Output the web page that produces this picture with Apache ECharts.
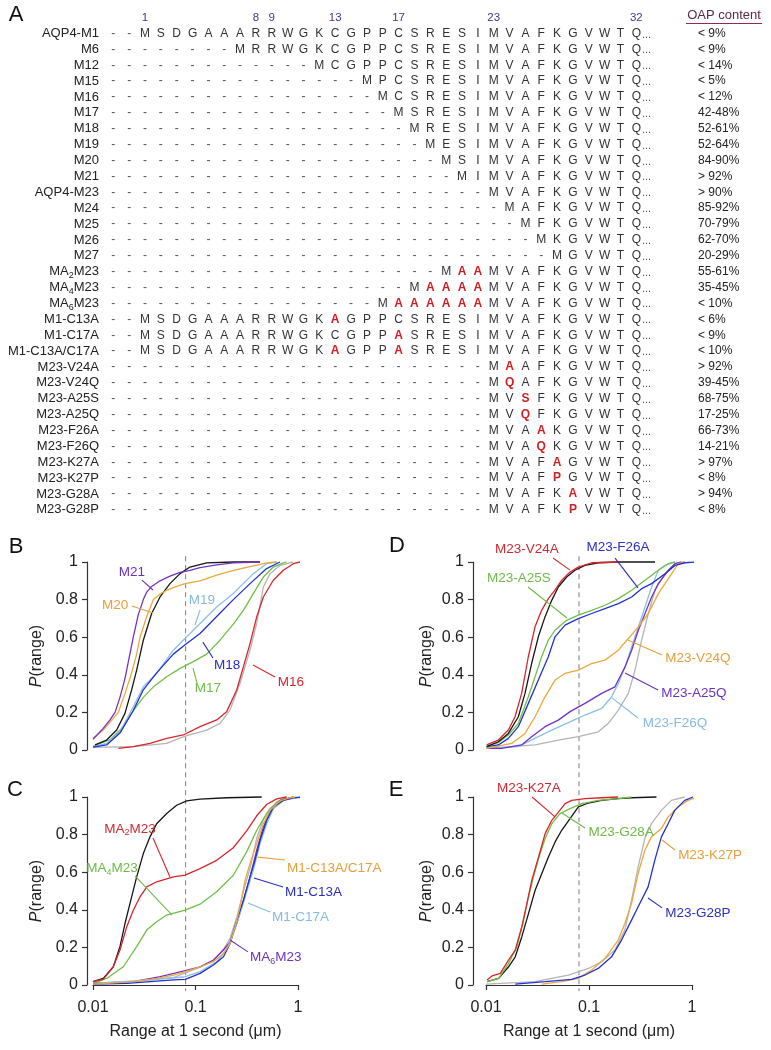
<!DOCTYPE html>
<html><head><meta charset="utf-8">
<script src="https://cdn.jsdelivr.net/npm/echarts@6.0.0/dist/echarts.min.js"></script>
<style>html,body{margin:0;padding:0;background:#fff;}#chart{width:771px;height:1050px;}</style>
</head><body><div id="chart"></div>
<script>
// ---------------- Panel A : sequence table ----------------
const numberedPositions = [1, 8, 9, 13, 17, 23, 32];
const rowLabels = ['AQP4-M1','M6','M12','M15','M16','M17','M18','M19','M20','M21','AQP4-M23','M24','M25','M26','M27','MA₂M23','MA₄M23','MA₆M23','M1-C13A','M1-C17A','M1-C13A/C17A','M23-V24A','M23-V24Q','M23-A25S','M23-A25Q','M23-F26A','M23-F26Q','M23-K27A','M23-K27P','M23-G28A','M23-G28P'];
const gap = n => '-'.repeat(n);
// positions -1,0,1..32 ; lower-case = mutated residue (red)
const rowSeqs = [
 '--MSDGAAARRWGKCGPPCSRESIMVAFKGVWTQ',
 gap(8)+'MRRWGKCGPPCSRESIMVAFKGVWTQ',
 gap(13)+'MCGPPCSRESIMVAFKGVWTQ',
 gap(16)+'MPCSRESIMVAFKGVWTQ',
 gap(17)+'MCSRESIMVAFKGVWTQ',
 gap(18)+'MSRESIMVAFKGVWTQ',
 gap(19)+'MRESIMVAFKGVWTQ',
 gap(20)+'MESIMVAFKGVWTQ',
 gap(21)+'MSIMVAFKGVWTQ',
 gap(22)+'MIMVAFKGVWTQ',
 gap(24)+'MVAFKGVWTQ',
 gap(25)+'MAFKGVWTQ',
 gap(26)+'MFKGVWTQ',
 gap(27)+'MKGVWTQ',
 gap(28)+'MGVWTQ',
 gap(21)+'MaaMVAFKGVWTQ',
 gap(19)+'MaaaaMVAFKGVWTQ',
 gap(17)+'MaaaaaaMVAFKGVWTQ',
 '--MSDGAAARRWGKaGPPCSRESIMVAFKGVWTQ',
 '--MSDGAAARRWGKCGPPaSRESIMVAFKGVWTQ',
 '--MSDGAAARRWGKaGPPaSRESIMVAFKGVWTQ',
 gap(24)+'MaAFKGVWTQ',
 gap(24)+'MqAFKGVWTQ',
 gap(24)+'MVsFKGVWTQ',
 gap(24)+'MVqFKGVWTQ',
 gap(24)+'MVAaKGVWTQ',
 gap(24)+'MVAqKGVWTQ',
 gap(24)+'MVAFaGVWTQ',
 gap(24)+'MVAFpGVWTQ',
 gap(24)+'MVAFKaVWTQ',
 gap(24)+'MVAFKpVWTQ'
];
const oapContent = ['< 9%','< 9%','< 14%','< 5%','< 12%','42-48%','52-61%','52-64%','84-90%','> 92%','> 90%','85-92%','70-79%','62-70%','20-29%','55-61%','35-45%','< 10%','< 6%','< 9%','< 10%','> 92%','39-45%','68-75%','17-25%','66-73%','14-21%','> 97%','< 8%','> 94%','< 8%'];

// ---------------- Axes ----------------
const xTickLabels = ['0.01','0.1','1'];
const yTickLabels = ['0','0.2','0.4','0.6','0.8','1'];
const xAxisTitle = 'Range at 1 second (μm)';
const yAxisTitle = '{i|P}(range)';
const dashX = 0.08;

// ---------------- Panel B ----------------
const B_M1 = [[0.01,0.014],[0.02472,0.018],[0.05236,0.035],[0.07907,0.074],[0.1285,0.106],[0.1734,0.142],[0.2173,0.212],[0.2716,0.354],[0.3404,0.531],[0.3954,0.673],[0.4592,0.867],[0.5333,0.938],[0.6668,0.982],[0.8995,1]];
const B_M23 = [[0.01047,0.027],[0.01358,0.053],[0.01702,0.106],[0.02051,0.195],[0.02382,0.32],[0.02667,0.425],[0.03097,0.584],[0.03733,0.726],[0.04508,0.814],[0.05636,0.885],[0.07063,0.938],[0.08831,0.973],[0.1285,0.995],[0.2339,1],[0.4256,1]];
const B_M16 = [[0.01766,0.009],[0.02472,0.018],[0.03597,0.035],[0.05236,0.062],[0.07603,0.08],[0.1107,0.124],[0.161,0.16],[0.2014,0.204],[0.2523,0.319],[0.2931,0.442],[0.3404,0.566],[0.3954,0.708],[0.4592,0.814],[0.5741,0.903],[0.7194,0.956],[0.8995,0.991],[1.047,1]];
const B_M17 = [[0.01,0.02],[0.01466,0.055],[0.01977,0.124],[0.02472,0.21],[0.03097,0.28],[0.03882,0.336],[0.05236,0.39],[0.07063,0.434],[0.09528,0.47],[0.1285,0.51],[0.1734,0.584],[0.2339,0.67],[0.2931,0.743],[0.3664,0.832],[0.4592,0.92],[0.5741,0.973],[0.7194,0.995],[0.7745,1]];
const B_M18 = [[0.01,0.015],[0.01358,0.027],[0.01832,0.09],[0.02472,0.21],[0.03097,0.32],[0.04178,0.41],[0.06081,0.51],[0.07907,0.56],[0.1107,0.62],[0.161,0.71],[0.2339,0.8],[0.3404,0.885],[0.4943,0.965],[0.6668,1]];
const B_M19 = [[0.01,0.018],[0.01358,0.035],[0.01832,0.097],[0.02472,0.23],[0.03097,0.336],[0.04178,0.407],[0.06081,0.531],[0.07907,0.593],[0.1107,0.673],[0.161,0.761],[0.2339,0.832],[0.3664,0.938],[0.4943,0.991],[0.6194,1]];
const B_M20 = [[0.01,0.062],[0.01259,0.106],[0.01578,0.168],[0.01766,0.2],[0.02051,0.3],[0.0235,0.4],[0.02667,0.51],[0.02877,0.6],[0.03342,0.71],[0.03882,0.8],[0.04508,0.83],[0.05236,0.85],[0.06546,0.87],[0.07907,0.885],[0.1107,0.9],[0.161,0.93],[0.2339,0.955],[0.3404,0.975],[0.4943,0.995],[0.6194,1]];
const B_M21 = [[0.01,0.057],[0.01259,0.115],[0.01466,0.16],[0.01641,0.2],[0.01832,0.28],[0.02051,0.38],[0.02213,0.47],[0.02472,0.6],[0.02768,0.72],[0.03097,0.8],[0.03342,0.84],[0.03733,0.87],[0.04508,0.9],[0.05636,0.925],[0.07063,0.945],[0.08831,0.955],[0.1107,0.97],[0.161,0.985],[0.2339,0.995],[0.4256,1]];

// ---------------- Panel C ----------------
const C_M1 = [[0.01,0.01],[0.0249,0.018],[0.0611,0.04],[0.0794,0.065],[0.111,0.095],[0.1496,0.13],[0.1875,0.19],[0.2177,0.25],[0.2529,0.36],[0.2938,0.5],[0.3404,0.62],[0.3954,0.78],[0.4592,0.88],[0.5333,0.94],[0.6683,0.98],[0.9016,1]];
const C_M23 = [[0.01,0.018],[0.01259,0.035],[0.01578,0.097],[0.01832,0.204],[0.02051,0.327],[0.02296,0.434],[0.02667,0.575],[0.03097,0.699],[0.03597,0.788],[0.04178,0.858],[0.05236,0.912],[0.06546,0.956],[0.08204,0.979],[0.1107,0.989],[0.2014,0.996],[0.4426,1]];
const C_MA2M23 = [[0.01,0.018],[0.01259,0.03],[0.01578,0.097],[0.01832,0.186],[0.02128,0.308],[0.02472,0.398],[0.02877,0.469],[0.03342,0.522],[0.04178,0.549],[0.06081,0.575],[0.07907,0.584],[0.1107,0.619],[0.161,0.663],[0.2339,0.73],[0.3155,0.82],[0.3954,0.9],[0.4943,0.96],[0.6194,0.99],[0.7745,1]];
const C_MA4M23 = [[0.01,0.009],[0.01358,0.035],[0.01977,0.097],[0.02667,0.204],[0.03342,0.292],[0.04178,0.336],[0.05236,0.372],[0.07907,0.398],[0.1107,0.43],[0.161,0.496],[0.2339,0.584],[0.3155,0.708],[0.3954,0.823],[0.4943,0.912],[0.6194,0.973],[0.7745,1]];
const C_MA6M23 = [[0.01,0.009],[0.0249,0.018],[0.04529,0.044],[0.0794,0.076],[0.111,0.097],[0.1496,0.133],[0.1875,0.186],[0.2177,0.23],[0.2529,0.327],[0.2938,0.451],[0.3404,0.575],[0.3954,0.717],[0.4592,0.841],[0.5333,0.92],[0.6683,0.982],[0.9016,1]];
const C_C13A = [[0.01,0.005],[0.02143,0.009],[0.03614,0.018],[0.0611,0.027],[0.0794,0.03],[0.111,0.062],[0.1496,0.106],[0.1875,0.15],[0.2177,0.221],[0.2529,0.345],[0.2938,0.451],[0.3404,0.575],[0.3811,0.664],[0.4266,0.77],[0.4955,0.876],[0.5754,0.947],[0.7194,0.982],[0.9016,0.996],[1.15,1]];
const C_C17A = [[0.01,0.009],[0.03614,0.027],[0.0794,0.044],[0.111,0.071],[0.161,0.124],[0.2006,0.186],[0.2329,0.274],[0.2723,0.38],[0.3177,0.5],[0.3705,0.62],[0.4266,0.752],[0.4955,0.858],[0.5754,0.938],[0.7194,0.982],[1.045,1]];
const C_C13A17A = [[0.01,0.005],[0.0249,0.018],[0.042,0.035],[0.0611,0.053],[0.0794,0.071],[0.111,0.097],[0.1496,0.124],[0.1875,0.168],[0.2177,0.221],[0.2432,0.31],[0.2723,0.416],[0.3048,0.558],[0.3404,0.646],[0.3954,0.752],[0.4592,0.858],[0.5333,0.929],[0.6683,0.979],[0.8356,0.996],[0.9354,1]];

// ---------------- Panel D ----------------
const D_M1 = [[0.01015,0.009],[0.02992,0.027],[0.05035,0.053],[0.07871,0.071],[0.1233,0.097],[0.1542,0.142],[0.1928,0.212],[0.241,0.301],[0.2799,0.425],[0.3243,0.584],[0.3767,0.726],[0.4375,0.85],[0.547,0.938],[0.6839,0.991],[0.8551,1]];
const D_M23 = [[0.01015,0.018],[0.01318,0.044],[0.01648,0.088],[0.02061,0.177],[0.02392,0.301],[0.02773,0.46],[0.03221,0.602],[0.03741,0.708],[0.04345,0.796],[0.05035,0.867],[0.06067,0.92],[0.07311,0.956],[0.09141,0.982],[0.1233,0.996],[0.1928,1],[0.4375,1]];
const D_V24A = [[0.01015,0.027],[0.01318,0.053],[0.01648,0.106],[0.01914,0.177],[0.02218,0.301],[0.02576,0.496],[0.02992,0.655],[0.03467,0.743],[0.04027,0.805],[0.04677,0.85],[0.05433,0.903],[0.06546,0.947],[0.07871,0.973],[0.1062,0.996],[0.1928,1]];
const D_A25S = [[0.01015,0.021],[0.01318,0.039],[0.01648,0.08],[0.02061,0.142],[0.02576,0.283],[0.02992,0.389],[0.03467,0.496],[0.04027,0.584],[0.04677,0.637],[0.06067,0.69],[0.07871,0.717],[0.1062,0.743],[0.1429,0.77],[0.1928,0.805],[0.2594,0.85],[0.3499,0.903],[0.471,0.956],[0.5888,0.991],[0.6839,1]];
const D_F26A = [[0.01015,0.018],[0.01318,0.027],[0.01648,0.062],[0.02061,0.124],[0.02576,0.248],[0.03221,0.372],[0.04027,0.496],[0.04677,0.602],[0.05848,0.664],[0.07871,0.699],[0.1062,0.726],[0.1429,0.752],[0.1928,0.779],[0.2594,0.814],[0.3243,0.858],[0.4055,0.885],[0.547,0.938],[0.6839,0.982],[0.8551,0.996],[1.11,1]];
const D_V24Q = [[0.01015,0.009],[0.01774,0.035],[0.02392,0.088],[0.02992,0.177],[0.03741,0.283],[0.04677,0.372],[0.05848,0.407],[0.07871,0.425],[0.1062,0.46],[0.1429,0.478],[0.1928,0.531],[0.241,0.593],[0.3013,0.655],[0.3767,0.726],[0.471,0.832],[0.547,0.885],[0.6353,0.938],[0.7362,0.991],[0.8551,1]];
const D_A25Q = [[0.01015,0.009],[0.01419,0.009],[0.02218,0.027],[0.02773,0.071],[0.03741,0.124],[0.05035,0.159],[0.06546,0.204],[0.09141,0.248],[0.1327,0.301],[0.1786,0.336],[0.2075,0.407],[0.2239,0.442],[0.2594,0.531],[0.3013,0.637],[0.3499,0.726],[0.4055,0.814],[0.471,0.885],[0.5888,0.956],[0.6839,0.991],[0.7943,1]];
const D_F26Q = [[0.01015,0.009],[0.02061,0.018],[0.03221,0.071],[0.04345,0.106],[0.06546,0.15],[0.09141,0.186],[0.1327,0.221],[0.166,0.283],[0.1928,0.354],[0.2239,0.442],[0.2594,0.549],[0.3013,0.655],[0.3499,0.761],[0.4055,0.867],[0.471,0.956],[0.547,0.982],[0.6839,1]];

// ---------------- Panel E ----------------
const E_M1 = [[0.01,0.005],[0.03,0.018],[0.0631,0.053],[0.09863,0.088],[0.1327,0.124],[0.1786,0.186],[0.2228,0.292],[0.2588,0.451],[0.3,0.628],[0.3483,0.779],[0.4036,0.858],[0.5047,0.929],[0.631,0.982],[0.8492,1]];
const E_M23 = [[0.01023,0.018],[0.01327,0.035],[0.01656,0.097],[0.01923,0.15],[0.02228,0.257],[0.02588,0.381],[0.03,0.504],[0.03483,0.593],[0.04036,0.681],[0.04688,0.761],[0.05433,0.823],[0.06546,0.885],[0.07889,0.947],[0.09863,0.968],[0.1327,0.982],[0.1923,0.991],[0.2588,0.996],[0.4519,1]];
const E_K27A = [[0.01023,0.027],[0.01143,0.048],[0.01377,0.062],[0.01656,0.133],[0.01923,0.186],[0.02228,0.31],[0.02495,0.434],[0.02786,0.558],[0.03236,0.681],[0.0375,0.805],[0.04355,0.876],[0.05047,0.92],[0.0586,0.965],[0.06792,0.982],[0.0914,0.991],[0.1327,0.996],[0.1923,1]];
const E_G28A = [[0.01023,0.018],[0.01327,0.035],[0.01656,0.115],[0.01995,0.204],[0.02317,0.345],[0.02588,0.469],[0.02891,0.575],[0.03236,0.673],[0.0375,0.779],[0.04355,0.858],[0.05236,0.912],[0.06546,0.938],[0.08492,0.965],[0.123,0.982],[0.1923,0.991],[0.2588,1]];
const E_K27P = [[0.03483,0.005],[0.05433,0.018],[0.07889,0.035],[0.1062,0.08],[0.1429,0.142],[0.1923,0.239],[0.2228,0.327],[0.2588,0.434],[0.3,0.593],[0.3483,0.717],[0.4036,0.788],[0.5047,0.832],[0.5861,0.894],[0.7328,0.947],[0.9141,0.982],[1.143,1]];
const E_G28P = [[0.01923,0.005],[0.0375,0.018],[0.06792,0.03],[0.0914,0.053],[0.123,0.088],[0.1656,0.15],[0.207,0.239],[0.2588,0.345],[0.3,0.416],[0.375,0.522],[0.4355,0.664],[0.5047,0.788],[0.5861,0.858],[0.6792,0.929],[0.8492,0.982],[1.023,1]];

// ---------------- styling ----------------
const FONT = "'Liberation Sans', Arial, Helvetica, sans-serif";
const COL = {red:'#d8252b', black:'#161616', green:'#70bf46', blue:'#2330d2', lightblue:'#8bbfea', orange:'#eda83a', purple:'#7133c6', gray:'#b4b4b4'};
const LBL = {red:'#cf2a30', green:'#6dbb48', blue:'#2a2fc4', lightblue:'#86b9e4', orange:'#e59f3c', purple:'#6a33bf'};

const panelSeries = [
  [[B_M1,'gray'],[B_M16,'red'],[B_M17,'green'],[B_M19,'lightblue'],[B_M18,'blue'],[B_M23,'black'],[B_M20,'orange'],[B_M21,'purple']],
  [[C_M1,'gray'],[C_M23,'black'],[C_MA4M23,'green'],[C_MA2M23,'red'],[C_MA6M23,'purple'],[C_C17A,'lightblue'],[C_C13A,'blue'],[C_C13A17A,'orange']],
  [[D_M1,'gray'],[D_F26Q,'lightblue'],[D_A25Q,'purple'],[D_V24Q,'orange'],[D_F26A,'blue'],[D_A25S,'green'],[D_M23,'black'],[D_V24A,'red']],
  [[E_M1,'gray'],[E_K27P,'orange'],[E_G28P,'blue'],[E_M23,'black'],[E_G28A,'green'],[E_K27A,'red']]
];

// curve labels (data coordinates of each panel), leader line endpoints
const annotations = [
  {g:0, t:'M21', c:'purple', at:[0.024,0.947], al:'center', ln:[[0.030,0.904],[0.0385,0.851]]},
  {g:0, t:'M20', c:'orange', at:[0.0164,0.771], al:'center', ln:[[0.024,0.766],[0.0385,0.729]]},
  {g:0, t:'M19', c:'lightblue', at:[0.1156,0.798], al:'center', ln:[[0.1107,0.745],[0.0989,0.665]]},
  {g:0, t:'M18', c:'blue', at:[0.203,0.452], al:'center', ln:[[0.148,0.489],[0.118,0.574]]},
  {g:0, t:'M17', c:'green', at:[0.1324,0.33], al:'center', ln:[[0.1035,0.356],[0.0946,0.436]]},
  {g:0, t:'M16', c:'red', at:[0.853,0.362], al:'center', ln:[[0.597,0.388],[0.364,0.452]]},
  {g:1, t:'MA₂M23', c:'red', at:[0.02296,0.83], al:'center', ln:[[0.0385,0.782],[0.0564,0.574]]},
  {g:1, t:'MA₄M23', c:'green', at:[0.0153,0.622], al:'center', ln:[[0.0257,0.58],[0.059,0.372]]},
  {g:1, t:'M1-C13A/C17A', c:'orange', at:[0.781,0.622], al:'left', ln:[[0.747,0.665],[0.407,0.68]]},
  {g:1, t:'M1-C13A', c:'blue', at:[0.747,0.495], al:'left', ln:[[0.714,0.521],[0.372,0.569]]},
  {g:1, t:'M1-C17A', c:'lightblue', at:[0.557,0.362], al:'left', ln:[[0.533,0.388],[0.325,0.436]]},
  {g:1, t:'MA₆M23', c:'purple', at:[0.34,0.149], al:'left', ln:[[0.325,0.176],[0.217,0.239]]},
  {g:2, t:'M23-V24A', c:'red', at:[0.025,1.069], al:'center', ln:[[0.0447,1.021],[0.0654,0.957]]},
  {g:2, t:'M23-F26A', c:'blue', at:[0.191,1.08], al:'center', ln:[[0.179,1.021],[0.299,0.862]]},
  {g:2, t:'M23-A25S', c:'green', at:[0.0209,0.915], al:'center', ln:[[0.0256,0.867],[0.0611,0.702]]},
  {g:2, t:'M23-V24Q', c:'orange', at:[1.143,0.489], al:'center', ln:[[0.512,0.505],[0.239,0.585]]},
  {g:2, t:'M23-A25Q', c:'purple', at:[1.045,0.303], al:'center', ln:[[0.468,0.319],[0.224,0.41]]},
  {g:2, t:'M23-F26Q', c:'lightblue', at:[0.684,0.144], al:'center', ln:[[0.299,0.17],[0.167,0.277]]},
  {g:3, t:'M23-K27A', c:'red', at:[0.0261,1.048], al:'center', ln:[[0.028,1.0],[0.0468,0.894]]},
  {g:3, t:'M23-G28A', c:'green', at:[0.2046,0.814], al:'center', ln:[[0.0915,0.835],[0.0547,0.915]]},
  {g:3, t:'M23-K27P', c:'orange', at:[1.496,0.691], al:'center', ln:[[0.684,0.718],[0.512,0.771]]},
  {g:3, t:'M23-G28P', c:'blue', at:[1.143,0.383], al:'center', ln:[[0.512,0.41],[0.374,0.463]]}
];

// ---------------- layout ----------------
const grids = [
  {left:93, top:562, width:205, height:188},
  {left:93, top:797, width:205, height:188},
  {left:486, top:562, width:206, height:188},
  {left:486, top:797, width:206, height:188}
];
const yOffsets = [6,6,13,13];
const yNameGaps = [42,42,38,38];
const panelLetters = [['A',16,15],['B',16,547],['C',15,790],['D',397,546],['E',396,790]];

const chart = echarts.init(document.getElementById('chart'), null, {renderer:'canvas', width:771, height:1050});
const axisColor = '#333';
const option = {
  animation:false,
  backgroundColor:'#fff',
  grid: grids.map(g => Object.assign({containLabel:false}, g)),
  xAxis: grids.map((g,i) => ({
    type:'log', logBase:10, min:0.01, max:1, gridIndex:i,
    show: i===1 || i===3, position:'bottom', offset:6,
    axisLine:{show:true, lineStyle:{color:axisColor, width:1.2}},
    axisTick:{show:true, length:5, lineStyle:{color:axisColor, width:1.2}},
    minorTick:{show:false}, splitLine:{show:false}, minorSplitLine:{show:false},
    axisLabel:{fontSize:16, color:'#222', fontFamily:FONT, margin:9,
      formatter: v => xTickLabels[Math.round(Math.log10(v))+2]},
    name:xAxisTitle, nameLocation:'middle', nameGap:33,
    nameTextStyle:{fontSize:16, color:'#222', fontFamily:FONT}
  })),
  yAxis: grids.map((g,i) => ({
    type:'value', gridIndex:i, min:0, max:1, interval:0.2, offset:yOffsets[i],
    axisLine:{show:true, lineStyle:{color:axisColor, width:1.2}},
    axisTick:{show:true, length:5, lineStyle:{color:axisColor, width:1.2}},
    splitLine:{show:false},
    axisLabel:{fontSize:16, color:'#222', fontFamily:FONT, margin:9,
      formatter: v => yTickLabels[Math.round(v*5)]},
    name:yAxisTitle, nameLocation:'middle', nameGap:yNameGaps[i], nameRotate:90,
    nameTextStyle:{fontSize:16, color:'#222', fontFamily:FONT,
      rich:{i:{fontStyle:'italic', fontSize:16, fontFamily:FONT, color:'#222'}}}
  })),
  series: []
};
panelSeries.forEach((list, gi) => {
  list.forEach(([data, c]) => {
    option.series.push({
      type:'line', xAxisIndex:gi, yAxisIndex:gi, data:data, showSymbol:false, symbol:'none',
      clip:false, silent:true, smooth:false,
      lineStyle:{color:COL[c], width:1.3}, itemStyle:{color:COL[c]}, z: c==='gray'?2:3
    });
  });
});
chart.setOption(option);

// ---------------- graphics: table, labels, leaders, dashed line ----------------
const els = [];
const mctx = document.createElement('canvas').getContext('2d');
const fontStr = (size, weight) => `${weight||'normal'} ${size}px ${FONT}`;
function txt(x, y, text, size, fill, align, weight){
  els.push({type:'text', x:x, y:y, silent:true, z:20,
    style:{text:text, fill:fill, font:fontStr(size,weight), fontSize:size, fontFamily:FONT, fontWeight:weight||'normal',
      textAlign:align||'left', align:align||'left', textVerticalAlign:'middle', verticalAlign:'middle'}});
}
function line(x1,y1,x2,y2,stroke,w,dash,z){
  els.push({type:'line', silent:true, z:z||20, shape:{x1,y1,x2,y2}, style:{stroke:stroke, lineWidth:w||1, lineDash:dash||null}});
}
const SUB = {'₂':'2','₄':'4','₆':'6'};
function subLabel(x, y, label, size, fill, align){
  const parts = [];
  for (const ch of label){
    if (SUB[ch]) parts.push({t:SUB[ch], sub:true});
    else if (parts.length && !parts[parts.length-1].sub) parts[parts.length-1].t += ch;
    else parts.push({t:ch, sub:false});
  }
  const subSize = Math.round(size*0.68);
  const widths = parts.map(p => { mctx.font = fontStr(p.sub?subSize:size); return mctx.measureText(p.t).width; });
  const total = widths.reduce((a,b)=>a+b,0);
  let cx = align==='right' ? x-total : (align==='center' ? x-total/2 : x);
  parts.forEach((p,i) => { txt(cx, p.sub ? y+size*0.3 : y, p.t, p.sub?subSize:size, fill, 'left'); cx += widths[i]; });
}

// Panel A table
const ROW0 = 33.5, ROWH = 15.88, COL1 = 145, COLW = 15.85;
numberedPositions.forEach(n => txt(COL1+(n-1)*COLW, 18, String(n), 11.5, '#43358f', 'center'));
txt(724, 15, 'OAP content', 13, '#5a2a45', 'center');
line(686, 23.5, 762, 23.5, '#8c2c50', 1.2);
rowLabels.forEach((lab, i) => {
  const y = ROW0 + i*ROWH;
  subLabel(99, y, lab, 13, '#222', 'right');
  const s = rowSeqs[i];
  for (let k=0; k<s.length; k++){
    const ch = s[k];
    const x = COL1 + (k-2)*COLW;
    if (ch === '-') txt(x, y, '-', 12, '#555', 'center');
    else if (ch === ch.toLowerCase()) txt(x, y, ch.toUpperCase(), 12, '#d01f24', 'center', 'bold');
    else txt(x, y, ch, 12, '#333', 'center');
  }
  txt(642, y+1, '...', 11, '#555', 'left');
  txt(698, y, oapContent[i], 12, '#222', 'left');
});

// panel letters
panelLetters.forEach(([t,x,y]) => txt(x, y, t, 22, '#111', 'center'));

// dashed reference line through stacked panels
const toPx = (g, pt) => chart.convertToPixel({xAxisIndex:g, yAxisIndex:g}, pt);
[[0,1],[2,3]].forEach(([top,bot]) => {
  const a = toPx(top, [dashX, 1.03]);
  const b = toPx(bot, [dashX, -0.032]);
  line(a[0], a[1], b[0], b[1], '#8a8a8a', 1.1, [5,4], 1);
});

// curve labels + leader lines
annotations.forEach(a => {
  const p = toPx(a.g, a.at);
  subLabel(p[0], p[1], a.t, 13.5, LBL[a.c], a.al);
  const l1 = toPx(a.g, a.ln[0]), l2 = toPx(a.g, a.ln[1]);
  line(l1[0], l1[1], l2[0], l2[1], LBL[a.c], 1.1);
});

chart.setOption({graphic:{elements:els}});
</script>
</body></html>
